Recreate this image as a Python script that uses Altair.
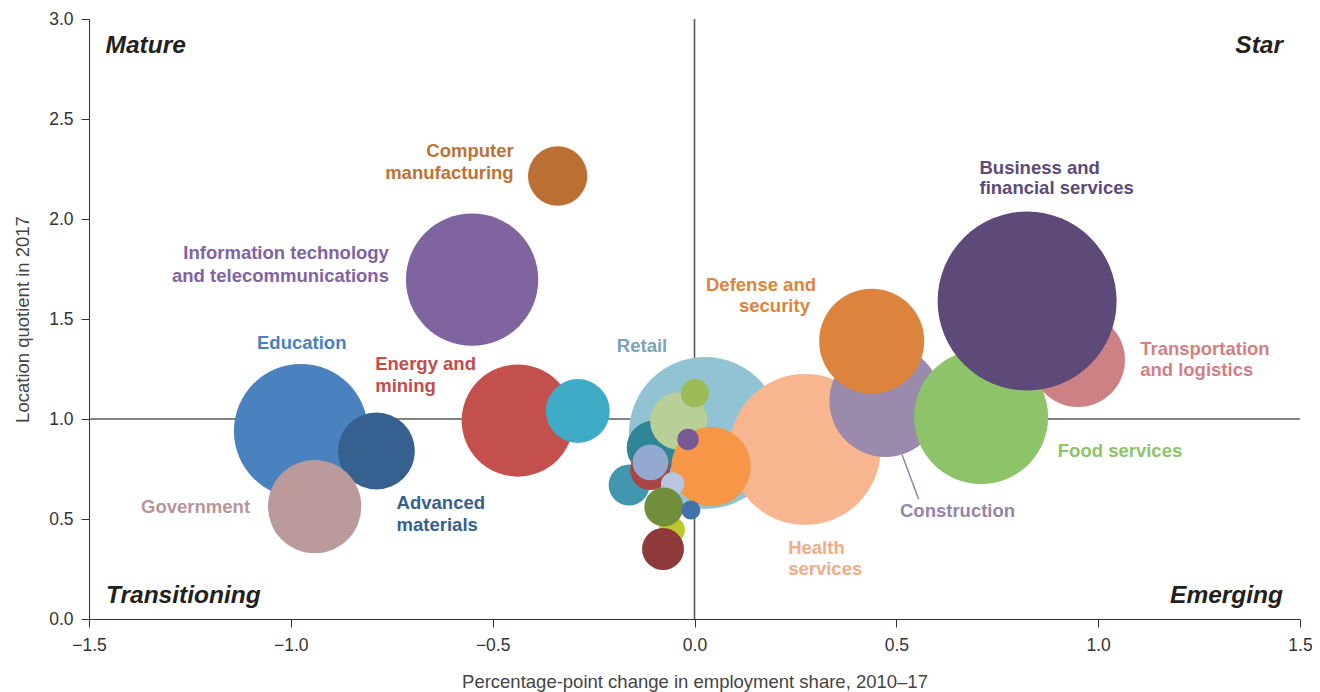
import altair as alt
import pandas as pd

# ---------------- data ----------------
sectors = [
    "Education", "Advanced materials", "Government", "Information technology and telecommunications",
    "Computer manufacturing", "Energy and mining", "Cluster A", "Retail", "Health services",
    "Construction", "Defense and security", "Food services", "Transportation and logistics",
    "Business and financial services", "Cluster B", "Cluster C", "Cluster D", "Cluster E",
    "Cluster F", "Cluster G", "Cluster H", "Cluster I", "Cluster J", "Cluster K", "Cluster L",
    "Cluster M", "Cluster N",
]
emp_change = [
    -0.975, -0.788, -0.941, -0.551,
    -0.339, -0.438, -0.289, 0.026, 0.274,
    0.473, 0.439, 0.710, 0.950,
    0.824, -0.101, -0.162, -0.110, -0.109,
    -0.039, 0.001, 0.041, -0.016, -0.054, -0.056, -0.076,
    -0.078, -0.009,
]
location_quotient = [
    0.940, 0.840, 0.562, 1.697,
    2.215, 0.992, 1.040, 0.930, 0.848,
    1.090, 1.389, 1.010, 1.295,
    1.590, 0.857, 0.670, 0.745, 0.783,
    0.990, 1.129, 0.762, 0.898, 0.675, 0.445, 0.560,
    0.350, 0.545,
]
employment = [
    449, 148, 218, 438,
    88, 314, 102, 578, 570,
    314, 276, 449, 221,
    801, 73, 42, 40, 32,
    82, 20, 158, 11.4, 13.7, 17, 38,
    44, 9,
]
bubble_colors = [
    "#4A81BF", "#36618F", "#BB9A9B", "#8064A0",
    "#BA7033", "#C4504D", "#3FABC6", "#92C3D3", "#F8B690",
    "#9A8AAB", "#DC843D", "#8DC46A", "#CD8184",
    "#5E4A78", "#2E8596", "#4197AF", "#A94544", "#93A9D0",
    "#B8CF98", "#9BBB59", "#F79646", "#775A94", "#BAC5DF", "#BBC82E", "#718E3D",
    "#8E3A3A", "#4372AA",
]

# bubble labels, one row per line of text
label_text = [
    "Computer", "manufacturing",
    "Information technology", "and telecommunications",
    "Education",
    "Energy and", "mining",
    "Government",
    "Advanced", "materials",
    "Retail",
    "Defense and", "security",
    "Business and", "financial services",
    "Transportation", "and logistics",
    "Food services",
    "Construction",
    "Health", "services",
]
label_x = [
    -0.448, -0.448,
    -0.757, -0.757,
    -0.973,
    -0.791, -0.791,
    -1.101,
    -0.738, -0.738,
    -0.130,
    0.301, 0.286,
    0.706, 0.706,
    1.104, 1.104,
    0.900,
    0.509,
    0.232, 0.232,
]
label_y = [
    2.312, 2.199,
    1.799, 1.687,
    1.350,
    1.245, 1.137,
    0.529,
    0.549, 0.440,
    1.337,
    1.640, 1.537,
    2.225, 2.124,
    1.320, 1.217,
    0.812,
    0.512,
    0.325, 0.220,
]
label_align = [
    "right", "right",
    "right", "right",
    "center",
    "left", "left",
    "right",
    "left", "left",
    "center",
    "right", "right",
    "left", "left",
    "left", "left",
    "left",
    "left",
    "left", "left",
]
label_colors = [
    "#BD7234", "#BD7234",
    "#7F63A2", "#7F63A2",
    "#4A81C0",
    "#C44B4B", "#C44B4B",
    "#B89598",
    "#36618F", "#36618F",
    "#7BA3B5",
    "#DC843D", "#DC843D",
    "#5E4A7A", "#5E4A7A",
    "#D37F83", "#D37F83",
    "#8DC46A",
    "#9485A8",
    "#F0AC86", "#F0AC86",
]

quadrant_text = ["Mature", "Star", "Transitioning", "Emerging"]
quadrant_x = [-1.459, 1.458, -1.458, 1.458]
quadrant_y = [2.829, 2.829, 0.0815, 0.0815]
quadrant_align = ["left", "right", "left", "right"]

# reference lines
ref_x = [0.0, -1.5]
ref_x2 = [0.0, 1.5]
ref_y = [0.0, 1.0]
ref_y2 = [3.0, 1.0]

# construction leader line
leader_x, leader_y, leader_x2, leader_y2 = [0.514], [0.822], [0.555], [0.600]

x_ticks = [-1.5, -1.0, -0.5, 0.0, 0.5, 1.0, 1.5]
y_ticks = [0.0, 0.5, 1.0, 1.5, 2.0, 2.5, 3.0]

# ---------------- tables ----------------
bubbles = pd.DataFrame({
    "sector": sectors,
    "change": emp_change,
    "lq": location_quotient,
    "employment": employment,
    "z": list(range(len(sectors))),
})
labels = pd.DataFrame({"text": label_text, "x": label_x, "y": label_y,
                       "align": label_align, "color": label_colors})
quads = pd.DataFrame({"text": quadrant_text, "x": quadrant_x, "y": quadrant_y, "align": quadrant_align})
refs = pd.DataFrame({"x": ref_x, "x2": ref_x2, "y": ref_y, "y2": ref_y2})
leader = pd.DataFrame({"x": leader_x, "y": leader_y, "x2": leader_x2, "y2": leader_y2})

FONT = "Liberation Sans"
xscale = alt.Scale(domain=[-1.5, 1.5], nice=False, zero=False)
yscale = alt.Scale(domain=[0, 3], nice=False, zero=False)

x_axis = alt.Axis(values=x_ticks, format=".1f", tickSize=8, grid=False, labelFlush=False,
                  title="Percentage-point change in employment share, 2010–17",
                  labelFontSize=17.5, titleFontSize=18.5, labelPadding=9, titlePadding=19)
y_axis = alt.Axis(values=y_ticks, format=".1f", tickSize=8, grid=False, labelFlush=False,
                  title="Location quotient in 2017",
                  labelFontSize=17.5, titleFontSize=18.5, labelPadding=8, titlePadding=16)

rules = alt.Chart(refs).mark_rule(color="#5a5a5a", strokeWidth=1.6).encode(
    x=alt.X("x:Q", scale=xscale, axis=x_axis),
    x2="x2:Q",
    y=alt.Y("y:Q", scale=yscale, axis=y_axis),
    y2="y2:Q",
)

leader_line = alt.Chart(leader).mark_rule(color="#9485A8", strokeWidth=1.5).encode(
    x=alt.X("x:Q", scale=xscale), x2="x2:Q",
    y=alt.Y("y:Q", scale=yscale), y2="y2:Q",
)

circles = alt.Chart(bubbles).mark_circle(opacity=1).encode(
    x=alt.X("change:Q", scale=xscale),
    y=alt.Y("lq:Q", scale=yscale),
    size=alt.Size("employment:Q", scale=alt.Scale(type="linear", domain=[0, 1000], range=[0, 40000], zero=True), legend=None),
    color=alt.Color("sector:N", scale=alt.Scale(domain=sectors, range=bubble_colors), legend=None),
    order=alt.Order("z:Q"),
)

def label_layer(align):
    return alt.Chart(labels).transform_filter(alt.datum.align == align).mark_text(
        align=align, baseline="alphabetic", font=FONT, fontSize=18.5, fontWeight="bold"
    ).encode(
        x=alt.X("x:Q", scale=xscale),
        y=alt.Y("y:Q", scale=yscale),
        text="text:N",
        color=alt.Color("color:N", scale=None),
    )

def quad_layer(align):
    return alt.Chart(quads).transform_filter(alt.datum.align == align).mark_text(
        align=align, baseline="alphabetic", font=FONT, fontSize=24.5, fontWeight="bold",
        fontStyle="italic", color="#231F20"
    ).encode(
        x=alt.X("x:Q", scale=xscale),
        y=alt.Y("y:Q", scale=yscale),
        text="text:N",
    )

chart = alt.layer(
    rules, leader_line, circles,
    label_layer("left"), label_layer("right"), label_layer("center"),
    quad_layer("left"), quad_layer("right"),
).properties(
    width=1211, height=600,
    autosize=alt.AutoSizeParams(type="none"),
    padding={"left": 81, "top": 11, "right": 12, "bottom": 82},
).configure_view(strokeWidth=0).configure_axis(
    labelFont=FONT, titleFont=FONT, labelColor="#333333", titleColor="#444444",
    domainColor="#333333", tickColor="#333333", titleFontWeight="normal",
)

chart.save("out.html", embed_options={"renderer": "svg", "actions": False})
